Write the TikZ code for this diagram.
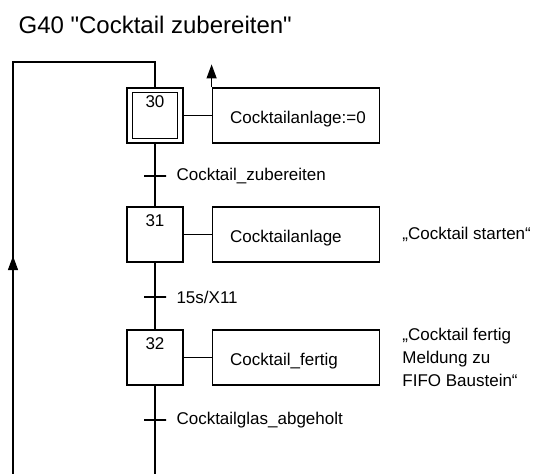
\documentclass[tikz,border=0pt]{standalone}
\usepackage{fontspec}
\setmainfont{Liberation Sans}[Ligatures=TeXOff]
\usetikzlibrary{arrows.meta,positioning}

\begin{document}
\begin{tikzpicture}[x=1pt, y=1pt,
  font=\fontsize{17}{23}\selectfont, line width=1.2pt, >={Triangle[length=14pt,width=10pt]},
  node distance=28pt,
  stepbox/.style={draw, minimum width=56pt, minimum height=55pt, inner sep=0pt},
  nr/.style={anchor=north, yshift=-4pt},
  act/.style={draw, minimum height=55pt, text width=131pt, inner xsep=18pt, align=left,
    text height=17pt, text depth=2pt},
  trans/.style={draw, minimum width=22pt, minimum height=0pt, inner sep=0pt},
  tl/.style={label distance=6pt},
  cmt/.style={align=left, inner sep=0pt}]
\useasboundingbox (0,0) rectangle (536,-474);
\node[anchor=base west, inner sep=0pt, font=\fontsize{24}{28}\selectfont] (title) at (18,-33) {G40 "Cocktail zubereiten"};
% steps
\node[stepbox, label={[nr]north:30}] (s30) at (155,-115.5) {};
\draw ([shift={(6pt,-5pt)}]s30.north west) rectangle ([shift={(-6pt,5pt)}]s30.south east);
\node[stepbox, label={[nr]north:31}] (s31) at (155,-234.5) {};
\node[stepbox, label={[nr]north:32}] (s32) at (155,-357.5) {};
% actions
\node[act, right=of s30] (a30) {Cocktailanlage:=0};
\node[act, right=of s31] (a31) {Cocktailanlage};
\node[act, right=of s32] (a32) {Cocktail\_fertig};
\node[cmt, right=22pt of a31] (c31) {„Cocktail starten“};
\node[cmt, right=22pt of a32] (c32) {„Cocktail fertig\\Meldung zu\\FIFO Baustein“};
% transitions
\node[trans, label={[tl]right:Cocktail\_zubereiten}] (t1) at (155,-176) {};
\node[trans, label={[tl]right:15s/X11}] (t2) at (155,-297) {};
\node[trans, label={[tl]right:Cocktailglas\_abgeholt}] (t3) at (155,-420) {};
% loop back
\coordinate (tr) at (155,-62);
\coordinate (tleft) at (13,-62);
\coordinate (bl) at (13,-474);
\coordinate (la) at (13,-256);
\coordinate (bm) at (155,-474);
\coordinate[above=23pt of a30.north west] (up);
\foreach \a/\b in {s30/a30,s31/a31,s32/a32,s30/s31,s31/s32,s32/bm} \draw (\a)--(\b);
\draw (s30) -- (tr) -- (tleft) -- (bl);
\draw[->] (bl) -- (la);
\draw[->] (a30.north west) -- (up);
\end{tikzpicture}
\end{document}
